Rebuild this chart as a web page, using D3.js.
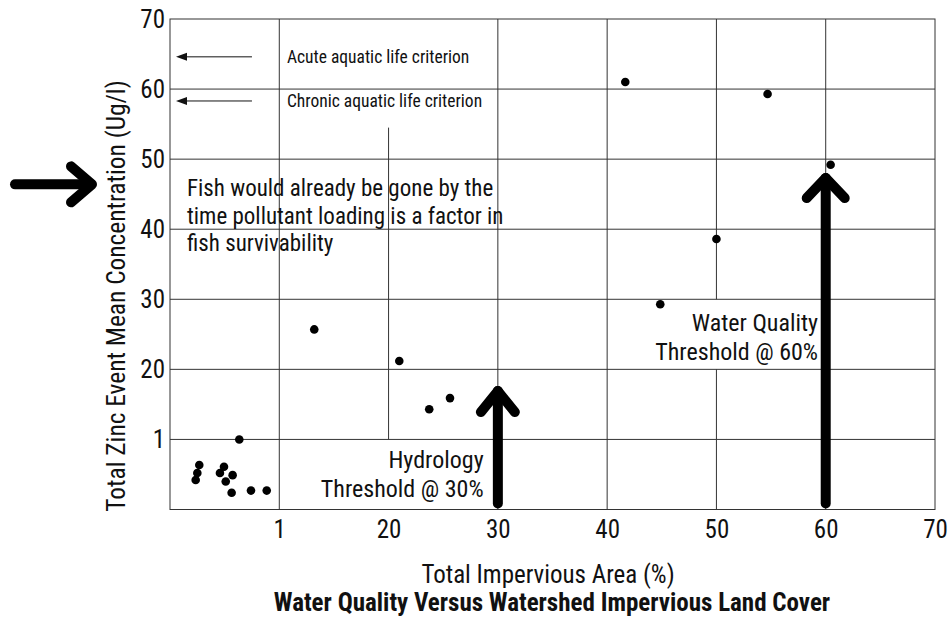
<!DOCTYPE html>
<html>
<head>
<meta charset="utf-8">
<script src="https://cdn.jsdelivr.net/npm/d3@7"></script>
<style>
  body { margin: 0; background: #fff; }
  svg text { font-family: "Liberation Sans Narrow", "Arial Narrow", "Roboto Condensed", sans-serif; fill: #111; }
</style>
</head>
<body>
<div id="chart"></div>
<script>
// values
const impervious = [2.68, 2.5, 2.35, 4.94, 4.57, 5.73, 5.1, 5.64, 7.41, 8.85, 6.34,
                    13.2, 20.98, 23.72, 25.62, 41.66, 54.68, 60.45, 44.86, 50.0]
const zinc = [6.35, 5.2, 4.2, 6.1, 5.2, 4.9, 4.0, 2.4, 2.7, 2.7, 10.0,
              25.7, 21.2, 14.3, 15.9, 61.0, 59.3, 49.2, 29.3, 38.6]

const xTickValues = [10, 20, 30, 40, 50, 60, 70]
const xTickLabels = ["1", "20", "30", "40", "50", "60", "70"]
const yTickValues = [10, 20, 30, 40, 50, 60, 70]
const yTickLabels = ["1", "20", "30", "40", "50", "60", "70"]

const width = 950
const height = 617
const margin = { left: 170, top: 19, right: 15, bottom: 107.5 }

const svg = d3.select("#chart")
  .append("svg")
    .attr("width", width)
    .attr("height", height)

const x = d3.scaleLinear().domain([0, 70]).range([margin.left, width - margin.right])
const y = d3.scaleLinear().domain([0, 70]).range([height - margin.bottom, margin.top])

const gridColor = "#333"

// vertical grid lines (the one at 20 only runs part way)
svg.append("g")
  .selectAll("line")
  .data(xTickValues.filter(d => d != 20 && d != 70))
  .join("line")
    .attr("x1", d => x(d)).attr("x2", d => x(d))
    .attr("y1", y(0)).attr("y2", y(70))
    .attr("stroke", gridColor)

svg.append("line")
    .attr("x1", x(20)).attr("x2", x(20))
    .attr("y1", y(54.5)).attr("y2", y(10))
    .attr("stroke", gridColor)

// white text box that hides the grid behind the water quality label
const boxes = [
  { x0: 44.1, x1: 59.6, y0: 20, y1: 30 }
]
svg.append("g")
  .selectAll("rect")
  .data(boxes)
  .join("rect")
    .attr("x", d => x(d.x0)).attr("y", d => y(d.y1))
    .attr("width", d => x(d.x1) - x(d.x0))
    .attr("height", d => y(d.y0) - y(d.y1))
    .attr("fill", "#fff")

// horizontal grid lines
svg.append("g")
  .selectAll("line")
  .data(yTickValues.filter(d => d != 70))
  .join("line")
    .attr("x1", x(0)).attr("x2", x(70))
    .attr("y1", d => y(d)).attr("y2", d => y(d))
    .attr("stroke", gridColor)

// frame
svg.append("rect")
    .attr("x", x(0)).attr("y", y(70))
    .attr("width", x(70) - x(0))
    .attr("height", y(0) - y(70))
    .attr("fill", "none")
    .attr("stroke", gridColor)

// axes, labels only
const xAxis = svg.append("g")
    .attr("transform", `translate(0,${y(0)})`)
    .call(d3.axisBottom(x).tickValues(xTickValues)
      .tickFormat((d, i) => xTickLabels[i]).tickSize(0).tickPadding(11))
xAxis.select(".domain").remove()
xAxis.selectAll("text")
    .attr("font-size", 25)
    .attr("fill", "#111")

const yAxis = svg.append("g")
    .attr("transform", `translate(${x(0)},0)`)
    .call(d3.axisLeft(y).tickValues(yTickValues)
      .tickFormat((d, i) => yTickLabels[i]).tickSize(0).tickPadding(5))
yAxis.select(".domain").remove()
yAxis.selectAll("text")
    .attr("font-size", 25)
    .attr("fill", "#111")
yAxis.attr("font-family", null)
xAxis.attr("font-family", null)

// axis titles
svg.append("text")
    .attr("x", 548).attr("y", 583)
    .attr("text-anchor", "middle")
    .attr("font-size", 25)
    .text("Total Impervious Area (%)")

svg.append("text")
    .attr("x", 552).attr("y", 611)
    .attr("text-anchor", "middle")
    .attr("font-size", 25)
    .attr("font-weight", "bold")
    .text("Water Quality Versus Watershed Impervious Land Cover")

svg.append("text")
    .attr("transform", "translate(125,296) rotate(-90)")
    .attr("text-anchor", "middle")
    .attr("font-size", 25.4)
    .text("Total Zinc Event Mean Concentration (Ug/l)")

// criterion arrows and notes
const criteria = [
  { value: 64.6, label: "Acute aquatic life criterion" },
  { value: 58.3, label: "Chronic aquatic life criterion" }
]
const crit = svg.append("g")
crit.selectAll("line")
  .data(criteria)
  .join("line")
    .attr("x1", x(1.3)).attr("x2", x(7.5))
    .attr("y1", d => y(d.value)).attr("y2", d => y(d.value))
    .attr("stroke", "#111")
crit.selectAll("path")
  .data(criteria)
  .join("path")
    .attr("d", d => {
      const px = x(0.55), py = y(d.value)
      return `M${px},${py} L${px + 11},${py - 4} L${px + 11},${py + 4} Z`
    })
    .attr("fill", "#111")
crit.selectAll("text")
  .data(criteria)
  .join("text")
    .attr("x", x(10.7))
    .attr("y", d => y(d.value))
    .attr("dy", "0.36em")
    .attr("font-size", 17.5)
    .text(d => d.label)

// fish note
const fishLines = ["Fish would already be gone by the",
                   "time pollutant loading is a factor in",
                   "fish survivability"]
svg.append("g")
  .selectAll("text")
  .data(fishLines)
  .join("text")
    .attr("x", 187)
    .attr("y", (d, i) => 196 + i * 27.7)
    .attr("font-size", 23)
    .text(d => d)

// threshold labels
const hydroLines = ["Hydrology", "Threshold @ 30%"]
svg.append("g")
  .selectAll("text")
  .data(hydroLines)
  .join("text")
    .attr("x", x(28.7))
    .attr("y", (d, i) => 468 + i * 29)
    .attr("text-anchor", "end")
    .attr("font-size", 24)
    .text(d => d)

const wqLines = ["Water Quality", "Threshold @ 60%"]
svg.append("g")
  .selectAll("text")
  .data(wqLines)
  .join("text")
    .attr("x", x(59.3))
    .attr("y", (d, i) => 331 + i * 28.5)
    .attr("text-anchor", "end")
    .attr("font-size", 24)
    .text(d => d)

// data points
svg.append("g")
  .selectAll("circle")
  .data(impervious.map((d, i) => ({ x: d, y: zinc[i] })))
  .join("circle")
    .attr("cx", d => x(d.x))
    .attr("cy", d => y(d.y))
    .attr("r", 4.3)
    .attr("fill", "#000")

// big thick arrows
const thick = svg.append("g")
    .attr("fill", "none")
    .attr("stroke", "#000")
    .attr("stroke-width", 10)
    .attr("stroke-linecap", "round")
    .attr("stroke-linejoin", "round")

const upArrows = [
  { at: 30, tip: 16.9, dx: 17, dy: 21 },
  { at: 60, tip: 47.3, dx: 19, dy: 20 }
]
upArrows.forEach(a => {
  const ax = x(a.at), tipY = y(a.tip)
  thick.append("path").attr("d", `M${ax},${y(0) - 6} V${tipY}`)
  thick.append("path").attr("d", `M${ax - a.dx},${tipY + a.dy} L${ax},${tipY} L${ax + a.dx},${tipY + a.dy}`)
})

// arrow pointing at the y title
const leftY = y(46.4)
thick.append("path").attr("d", `M15,${leftY} H91`)
thick.append("path").attr("d", `M71,${leftY - 18} L92,${leftY} L71,${leftY + 18}`)
</script>
</body>
</html>
